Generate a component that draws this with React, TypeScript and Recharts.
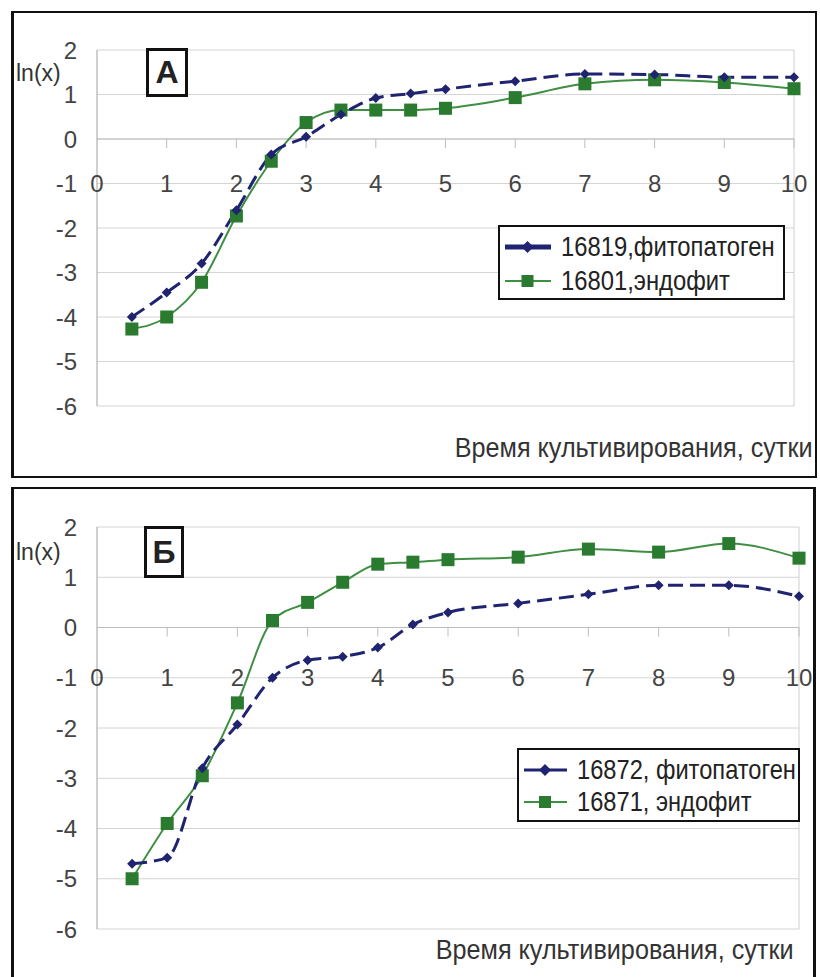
import React from "react"
import { LineChart, Line, XAxis, YAxis, CartesianGrid, ReferenceLine, ReferenceDot, Legend } from "recharts"

// время культивирования, сутки
const days = [0.5, 1, 1.5, 2, 2.5, 3, 3.5, 4, 4.5, 5, 6, 7, 8, 9, 10]
const xTicks = [0, 1, 2, 3, 4, 5, 6, 7, 8, 9, 10]
const yTicks = [-6, -5, -4, -3, -2, -1, 0, 1, 2]

// панель А
const namesA = ["16819,фитопатоген", "16801,эндофит"]
const a16819 = [-4.0, -3.45, -2.8, -1.6, -0.35, 0.05, 0.55, 0.92, 1.02, 1.12, 1.3, 1.46, 1.45, 1.39, 1.39]
const a16801 = [-4.27, -4.0, -3.22, -1.73, -0.5, 0.37, 0.65, 0.65, 0.65, 0.69, 0.93, 1.24, 1.33, 1.27, 1.13]

// панель Б
const namesB = ["16872, фитопатоген", "16871, эндофит"]
const b16872 = [-4.7, -4.58, -2.8, -1.93, -1.0, -0.65, -0.58, -0.4, 0.06, 0.3, 0.48, 0.66, 0.84, 0.84, 0.62]
const b16871 = [-5.0, -3.9, -2.95, -1.5, 0.14, 0.5, 0.9, 1.26, 1.3, 1.35, 1.4, 1.56, 1.5, 1.67, 1.38]

const NAVY = "#1f2370"
const GREEN = "#2a7a30"
const GREEN_LINE = "#3f8f43"
const FONT = "'Liberation Sans', Arial, sans-serif"

const Diamond = (props: any) => {
    const { cx, cy, index } = props
    if (cx == null || cy == null) return <g key={index} />
    const s = 5
    return (
        <polygon
            key={index}
            points={`${cx},${cy - s} ${cx + s},${cy} ${cx},${cy + s} ${cx - s},${cy}`}
            fill={NAVY}
        />
    )
}

const Square = (props: any) => {
    const { cx, cy, index } = props
    if (cx == null || cy == null) return <g key={index} />
    const s = 6.5
    return <rect key={index} x={cx - s} y={cy - s} width={s * 2} height={s * 2} fill={GREEN} />
}

interface LegendOpts {
    left: number
    top: number
    width: number
    height: number
    iconW: number
    rowH: number
    padTop: number
    thick: boolean
    scale: number
}

function LegendBox({ names, o }: { names: string[]; o: LegendOpts }) {
    const row = { display: "flex", alignItems: "center", height: o.rowH }
    const text = {
        display: "inline-block",
        flexShrink: 0,
        fontSize: 28,
        fontFamily: FONT,
        color: "#222",
        whiteSpace: "nowrap" as const,
        transform: `scaleX(${o.scale})`,
        transformOrigin: "left center",
    }
    const end = o.iconW - 10
    const mid = end / 2
    return (
        <div
            style={{
                boxSizing: "border-box",
                width: "100%",
                height: "100%",
                border: "2px solid #111",
                background: "#fff",
                padding: `${o.padTop}px 0 0 4px`,
                overflow: "hidden",
            }}
        >
            <div style={row}>
                <svg width={o.iconW} height={20} style={{ flexShrink: 0 }}>
                    <line x1={1} y1={10} x2={end} y2={10} stroke={NAVY} strokeWidth={o.thick ? 5 : 3} />
                    <polygon points={`${mid},4 ${mid + 6},10 ${mid},16 ${mid - 6},10`} fill={NAVY} />
                </svg>
                <span style={text}>{names[0]}</span>
            </div>
            <div style={row}>
                <svg width={o.iconW} height={20} style={{ flexShrink: 0 }}>
                    <line x1={1} y1={10} x2={end} y2={10} stroke={GREEN_LINE} strokeWidth={2} />
                    <rect x={mid - 6} y={4} width={12} height={12} fill={GREEN} />
                </svg>
                <span style={text}>{names[1]}</span>
            </div>
        </div>
    )
}

interface PanelProps {
    top: number
    height: number
    margin: { top: number; right: number; bottom: number; left: number }
    names: string[]
    s1: number[]
    s2: number[]
    legend: LegendOpts
}

function Panel({ top, height, margin, names, s1, s2, legend }: PanelProps) {
    const data = days.map((d, i) => ({ day: d, s1: s1[i], s2: s2[i] }))
    return (
        <div style={{ position: "absolute", left: 0, top, width: 820, height }}>
            <LineChart width={820} height={height} data={data} margin={margin}>
                <CartesianGrid vertical={false} stroke="#d4d4d4" horizontalValues={yTicks} />
                <XAxis type="number" dataKey="day" domain={[0, 10]} ticks={xTicks} hide height={0} />
                <YAxis
                    type="number"
                    domain={[-6, 2]}
                    ticks={yTicks}
                    interval={0}
                    width={97}
                    tickSize={0}
                    tickMargin={20}
                    tickLine={false}
                    axisLine={{ stroke: "#a0a0a0" }}
                    tick={{ fontSize: 24, fill: "#444", fontFamily: FONT }}
                />
                <ReferenceLine x={10} stroke="#cfcfcf" />
                <ReferenceLine y={0} stroke="#bdbdbd" />
                {xTicks.slice(1).map((t) => (
                    <ReferenceDot
                        key={`tm-${t}`}
                        x={t}
                        y={0}
                        r={0}
                        shape={(p: any) => <line x1={p.cx} y1={p.cy} x2={p.cx} y2={p.cy + 9} stroke="#bdbdbd" />}
                    />
                ))}
                {xTicks.map((t) => (
                    <ReferenceDot
                        key={`tl-${t}`}
                        x={t}
                        y={-1}
                        r={0}
                        shape={(p: any) => (
                            <text
                                x={p.cx}
                                y={p.cy}
                                textAnchor="middle"
                                dominantBaseline="central"
                                fontSize={24}
                                fill="#444"
                                fontFamily={FONT}
                            >
                                {t}
                            </text>
                        )}
                    />
                ))}
                <Line
                    type="monotone"
                    dataKey="s2"
                    name={names[1]}
                    stroke={GREEN_LINE}
                    strokeWidth={2}
                    dot={Square}
                    activeDot={false}
                    isAnimationActive={false}
                />
                <Line
                    type="monotone"
                    dataKey="s1"
                    name={names[0]}
                    stroke={NAVY}
                    strokeWidth={3}
                    strokeDasharray="15 7"
                    dot={Diamond}
                    activeDot={false}
                    isAnimationActive={false}
                />
                <Legend
                    layout="horizontal"
                    align="center"
                    verticalAlign="middle"
                    wrapperStyle={{ left: legend.left, top: legend.top, width: legend.width, height: legend.height }}
                    content={() => <LegendBox names={names} o={legend} />}
                />
            </LineChart>
        </div>
    )
}

const label = (style: React.CSSProperties, children: React.ReactNode) => (
    <div style={{ position: "absolute", fontFamily: FONT, color: "#333", whiteSpace: "nowrap", ...style }}>{children}</div>
)

const letterBox = (left: number, top: number, w: number, h: number, text: string) => (
    <div
        style={{
            position: "absolute",
            left,
            top,
            width: w,
            height: h,
            boxSizing: "border-box",
            border: "3px solid #111",
            background: "#fff",
            display: "flex",
            alignItems: "center",
            justifyContent: "center",
            fontFamily: FONT,
            fontWeight: 700,
            fontSize: 32,
            color: "#222",
        }}
    >
        {text}
    </div>
)

export default function App() {
    return (
        <div style={{ position: "absolute", left: 0, top: 0, width: 820, height: 977, overflow: "hidden", background: "#fff" }}>
            <div style={{ position: "absolute", left: 11, top: 11, width: 806, height: 467, boxSizing: "border-box", border: "2px solid #111", borderLeftWidth: 3 }} />
            <div style={{ position: "absolute", left: 11, top: 487, width: 805, height: 500, boxSizing: "border-box", border: "2px solid #111", borderLeftWidth: 3, borderRightWidth: 3 }} />

            <Panel
                top={0}
                height={480}
                margin={{ top: 50, right: 26, bottom: 74, left: 0 }}
                names={namesA}
                s1={a16819}
                s2={a16801}
                legend={{ left: 498, top: 225, width: 287, height: 75, iconW: 57, rowH: 34, padTop: 3, thick: true, scale: 0.85 }}
            />
            <Panel
                top={480}
                height={497}
                margin={{ top: 47, right: 21, bottom: 48, left: 0 }}
                names={namesB}
                s1={b16872}
                s2={b16871}
                legend={{ left: 517, top: 268, width: 283, height: 74, iconW: 54, rowH: 32, padTop: 4, thick: false, scale: 0.845 }}
            />

            {label({ left: 16, top: 59, fontSize: 23, lineHeight: "28px" }, "ln(x)")}
            {label({ left: 16, top: 538, fontSize: 23, lineHeight: "28px" }, "ln(x)")}
            {letterBox(146, 48, 42, 49, "А")}
            {letterBox(144, 526, 40, 52, "Б")}
            {label({ right: 8, top: 432, fontSize: 28, lineHeight: "32px", transform: "scaleX(0.9)", transformOrigin: "right center" }, "Время культивирования, сутки")}
            {label({ right: 27, top: 934, fontSize: 28, lineHeight: "32px", transform: "scaleX(0.9)", transformOrigin: "right center" }, "Время культивирования, сутки")}
        </div>
    )
}
